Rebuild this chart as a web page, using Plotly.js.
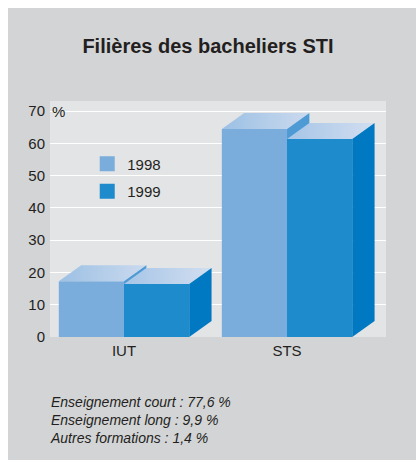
<!DOCTYPE html>
<html>
<head>
<meta charset="utf-8">
<script src="https://cdn.plot.ly/plotly-3.0.1.min.js"></script>
<style>html,body{margin:0;padding:0;background:#fff;}#chart{width:416px;height:460px;}</style>
</head>
<body>
<div id="chart"></div>
<script>
// ---- data ----
const categories = ['IUT', 'STS'];
const years = ['1998', '1999'];
const v1998 = [17.3, 64.4];
const v1999 = [16.4, 61.3];
const yTicks = [0, 10, 20, 30, 40, 50, 60, 70];
const footnotes = [
  'Enseignement court : 77,6 %',
  'Enseignement long : 9,9 %',
  'Autres formations : 1,4 %'
];

// ---- style ----
const FONT = 'Liberation Sans, Arial, Helvetica, sans-serif';
const TXT = '#231f20';
const barW = 0.4, dX = 0.137, dY = 4.95;
const seriesStyle = [
  {offset: -barW, front: '#7aaddb', top: ['#9cc0e4', '#cbdaee'], side: '#4d9ad5'},
  {offset: 0, front: '#1d8bcc', top: ['#a6c5e7', '#d2def0'], side: '#0079c2'}
];
const seriesValues = [v1998, v1999];

const traces = [];
function poly(xs, ys, color, grad) {
  const t = {
    type: 'scatter', mode: 'lines', x: xs.concat([xs[0]]), y: ys.concat([ys[0]]),
    fill: 'toself', fillcolor: color, line: {width: 0, color: color},
    showlegend: false, hoverinfo: 'skip'
  };
  if (grad) t.fillgradient = {type: 'horizontal', colorscale: [[0, grad[0]], [1, grad[1]]]};
  return t;
}
categories.forEach((cat, i) => {
  seriesValues.forEach((vals, s) => {
    const st = seriesStyle[s];
    const v = vals[i];
    const x0 = i + st.offset, x1 = x0 + barW;
    traces.push(poly([x0, x1, x1, x0], [0, 0, v, v], st.front));
    traces.push(poly([x0, x1, x1 + dX, x0 + dX], [v, v, v + dY, v + dY], st.top[0], st.top));
    traces.push(poly([x1, x1 + dX, x1 + dX, x1], [0, dY, v + dY, v], st.side));
  });
});
// legend entries
years.forEach((yr, s) => {
  traces.push({
    type: 'scatter', mode: 'markers', x: [null], y: [null], name: yr,
    legendgroup: 'g' + s,
    marker: {symbol: 'square', size: 15, color: seriesStyle[s].front, line: {width: 0}},
    hoverinfo: 'skip'
  });
});

const annotations = [{
  text: '%', xref: 'paper', yref: 'y', x: 0, y: 70, xanchor: 'left', yanchor: 'middle',
  showarrow: false, font: {family: FONT, size: 15, color: TXT}
}, {
  text: footnotes.join('<br>'), xref: 'paper', yref: 'paper', x: -0.005, y: -0.3517,
  xanchor: 'left', yanchor: 'middle', align: 'left',
  showarrow: false, font: {family: FONT, size: 14, color: TXT, style: 'italic'}
}];

const layout = {
  width: 416, height: 460,
  margin: {l: 50, r: 30, t: 101, b: 123, pad: 0},
  paper_bgcolor: '#d3d4d6',
  plot_bgcolor: '#e3e4e6',
  font: {family: FONT, color: TXT, size: 15},
  title: {
    text: 'Filières des bacheliers STI', xref: 'container', x: 0.5, xanchor: 'center',
    yref: 'container', y: 0.899, yanchor: 'middle',
    font: {family: FONT, size: 20, weight: 'bold', color: TXT}
  },
  xaxis: {
    range: [-0.454, 1.607], tickvals: [0, 1], ticktext: categories,
    showgrid: false, zeroline: false, showline: false, ticks: '', ticklabelstandoff: 3,
    tickfont: {family: FONT, size: 15, color: TXT}, fixedrange: true
  },
  yaxis: {
    range: [0, 73.1], tickvals: yTicks, ticktext: yTicks.map(String),
    showgrid: true, gridcolor: '#ffffff', gridwidth: 1, zeroline: false, showline: false,
    ticks: '', ticklabelstandoff: 4, tickfont: {family: FONT, size: 15, color: TXT}, fixedrange: true
  },
  showlegend: true,
  legend: {
    x: 0.1108, xanchor: 'left', y: 0.803, yanchor: 'top',
    bgcolor: 'rgba(0,0,0,0)', borderwidth: 0, traceorder: 'grouped', tracegroupgap: 5,
    font: {family: FONT, size: 15, color: TXT}
  },
  annotations: annotations,
  shapes: [
    {type: 'rect', xref: 'paper', yref: 'paper', x0: -0.3, x1: 1.3, y0: 1.3941, y1: 1.6,
     fillcolor: '#ffffff', line: {width: 0}, layer: 'above'},
    {type: 'rect', xref: 'paper', yref: 'paper', x0: -0.3, x1: -0.125, y0: -0.7, y1: 1.6,
     fillcolor: '#ffffff', line: {width: 0}, layer: 'above'}
  ],
  hovermode: false
};

Plotly.newPlot('chart', traces, layout, {displayModeBar: false, staticPlot: true});
</script>
</body>
</html>
